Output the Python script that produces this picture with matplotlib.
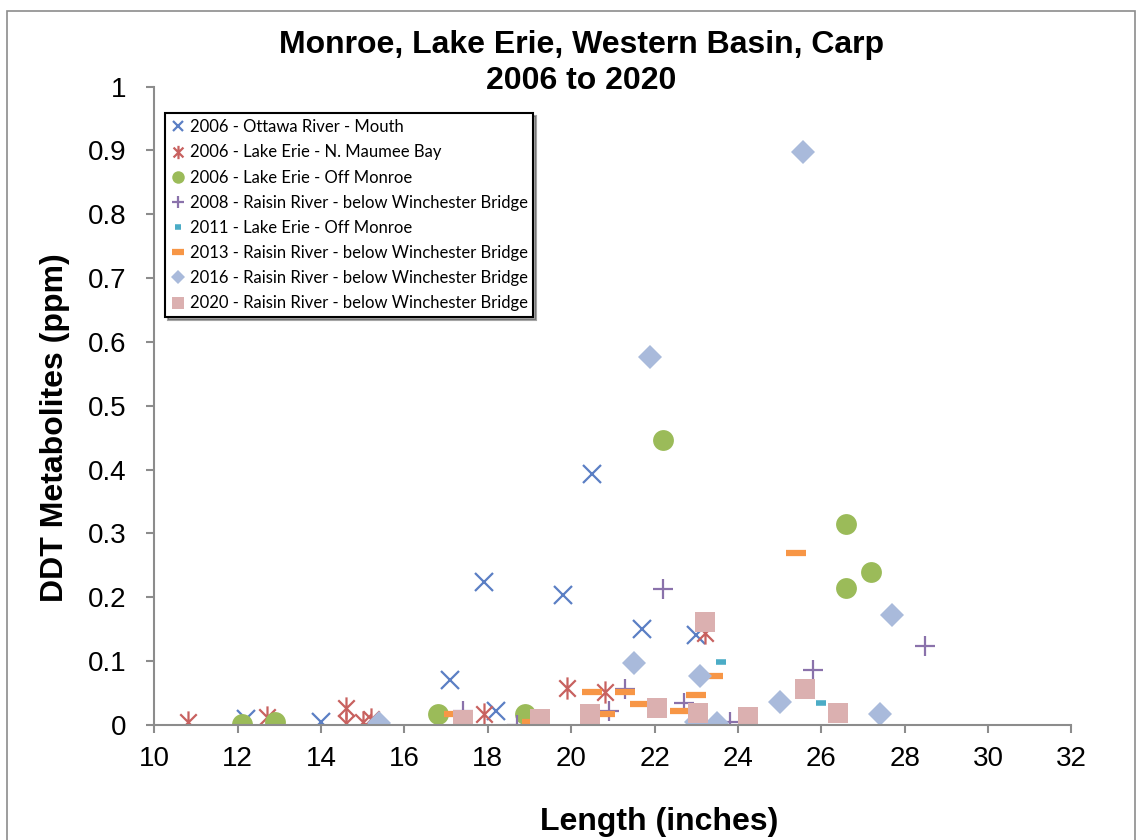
import matplotlib
matplotlib.use('Agg')
import matplotlib.pyplot as plt
from matplotlib.path import Path
from matplotlib.patches import Rectangle

# 2006 - Ottawa River - Mouth
ottawa_x = [12.2, 14.0, 17.1, 17.9, 18.2, 19.8, 20.5, 21.7, 23.0, 23.0]
ottawa_y = [0.010, 0.004, 0.070, 0.224, 0.022, 0.204, 0.393, 0.150, 0.141, 0.008]
# 2006 - Lake Erie - N. Maumee Bay
maumee_x = [10.8, 12.7, 14.6, 14.6, 15.0, 15.2, 17.9, 19.9, 20.8, 23.2]
maumee_y = [0.005, 0.012, 0.026, 0.003, 0.004, 0.010, 0.017, 0.058, 0.052, 0.144]
# 2006 - Lake Erie - Off Monroe
monroe06_x = [12.1, 12.9, 16.8, 18.9, 22.2, 26.6, 27.2, 26.6]
monroe06_y = [0.001, 0.005, 0.018, 0.017, 0.446, 0.315, 0.240, 0.214]
# 2008 - Raisin River
raisin08_x = [17.4, 18.7, 20.9, 21.3, 22.2, 22.7, 23.8, 25.8, 28.5]
raisin08_y = [0.022, 0.000, 0.022, 0.057, 0.213, 0.034, 0.004, 0.086, 0.124]
# 2011 - Lake Erie - Off Monroe
monroe11_x = [23.6, 26.0]
monroe11_y = [0.098, 0.035]
# 2013 - Raisin River
raisin13_x = [17.2, 19.05, 20.5, 20.8, 21.3, 21.65, 22.6, 23.0, 23.4, 25.4]
raisin13_y = [0.017, 0.004, 0.051, 0.017, 0.051, 0.033, 0.022, 0.047, 0.077, 0.269]
# 2016 - Raisin River
raisin16_x = [15.4, 21.5, 21.9, 23.1, 23.0, 23.5, 25.0, 25.55, 27.4, 27.7]
raisin16_y = [0.003, 0.097, 0.576, 0.077, 0.005, 0.003, 0.036, 0.897, 0.017, 0.172]
# 2020 - Raisin River
raisin20_x = [17.4, 19.25, 20.45, 20.45, 22.05, 23.05, 23.2, 24.25, 25.6, 26.4]
raisin20_y = [0.008, 0.009, 0.017, 0.005, 0.027, 0.019, 0.162, 0.013, 0.056, 0.019]

labels = ['2006 - Ottawa River - Mouth',
          '2006 - Lake Erie - N. Maumee Bay',
          '2006 - Lake Erie - Off Monroe',
          '2008 - Raisin River - below Winchester Bridge',
          '2011 - Lake Erie - Off Monroe',
          '2013 - Raisin River - below Winchester Bridge',
          '2016 - Raisin River - below Winchester Bridge',
          '2020 - Raisin River - below Winchester Bridge']

# excel style asterisk: x plus a vertical bar
star = Path([(-1, -1), (1, 1), (-1, 1), (1, -1), (0, -1.35), (0, 1.35)],
            [Path.MOVETO, Path.LINETO, Path.MOVETO, Path.LINETO, Path.MOVETO, Path.LINETO])

plt.rcParams['font.family'] = ['Liberation Sans', 'DejaVu Sans']

fig = plt.figure(figsize=(11.45, 8.4), dpi=100)
ax = fig.add_axes([0.1348, 0.1369, 0.8009, 0.7601])

ax.plot(ottawa_x, ottawa_y, ls='none', marker='x', ms=13, mew=1.6, color='#5b7fc4', label=labels[0])
ax.plot(maumee_x, maumee_y, ls='none', marker=star, ms=16, mew=1.6, mfc='none', color='#c8615f', label=labels[1])
ax.plot(monroe06_x, monroe06_y, ls='none', marker='o', ms=15, mew=0, color='#9bbb59', label=labels[2])
ax.plot(raisin08_x, raisin08_y, ls='none', marker='+', ms=15, mew=1.6, color='#8a72ab', label=labels[3])
ax.plot(monroe11_x, monroe11_y, ls='none', marker='_', ms=7, mew=4, color='#4bacc6', label=labels[4])
ax.plot(raisin13_x, raisin13_y, ls='none', marker='_', ms=14, mew=4.5, color='#f79646', label=labels[5])
ax.plot(raisin16_x, raisin16_y, ls='none', marker='D', ms=12, mew=0, color='#a9badb', label=labels[6])
ax.plot(raisin20_x, raisin20_y, ls='none', marker='s', ms=15, mew=0, color='#dbb0b0', label=labels[7])

ax.set_xlim(10, 32)
ax.set_ylim(0, 1)
ax.set_xticks(range(10, 33, 2))
ax.set_yticks([i / 10 for i in range(11)])
ax.set_yticklabels(['0'] + ['0.%d' % i for i in range(1, 10)] + ['1'])

for s in ['top', 'right']:
    ax.spines[s].set_visible(False)
for s in ['left', 'bottom']:
    ax.spines[s].set_color('#8c8c8c')
    ax.spines[s].set_linewidth(1.5)
ax.tick_params(direction='out', length=6, width=1.5, color='#8c8c8c', labelsize=20)
ax.tick_params(axis='y', pad=14)
ax.tick_params(axis='x', pad=9)

ax.set_xlabel('Length (inches)', fontsize=23, fontweight='bold', va='center')
ax.xaxis.set_label_coords(0.55, -0.152)
ax.set_ylabel('DDT Metabolites (ppm)', fontsize=23, fontweight='bold', va='center')
ax.yaxis.set_label_coords(-0.108, 0.465)

fig.text(0.508, 0.925, 'Monroe, Lake Erie, Western Basin, Carp\n2006 to 2020',
         ha='center', va='center', fontsize=23, fontweight='bold', linespacing=1.25)

leg = ax.legend(loc='upper left', bbox_to_anchor=(0.012, 0.958), borderaxespad=0,
                prop={'family': 'Lato', 'size': 12}, markerscale=0.6, handlelength=0.8,
                handletextpad=0.3, labelspacing=0.55, borderpad=0.35,
                fancybox=False, shadow=True, framealpha=1, edgecolor='black')
leg.get_frame().set_linewidth(1.5)

# chart area border
fig.patches.append(Rectangle((7 / 1145, -0.01), 1128 / 1145, 1 - 11 / 840 + 0.01,
                             transform=fig.transFigure, fill=False, edgecolor='#8c8c8c', lw=1.2))

fig.savefig('out.png', dpi=100)
